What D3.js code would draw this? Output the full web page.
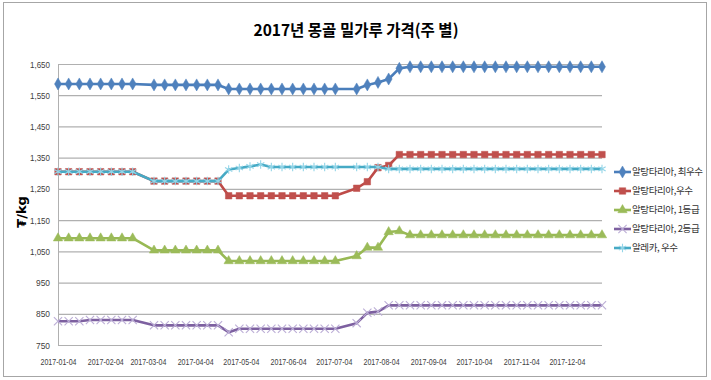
<!DOCTYPE html>
<html><head><meta charset="utf-8">
<script src="https://cdn.jsdelivr.net/npm/d3@7"></script>
<style>
html,body{margin:0;padding:0;background:#fff;}
svg{display:block;}
</style></head>
<body><svg id="c" width="711" height="380"></svg>
<script>
const title = "2017년 몽골 밀가루 가격(주 별)";
const yLabel = "₮/kg";
const dates = ["2017-01-04","2017-01-11","2017-01-18","2017-01-25","2017-02-01","2017-02-08","2017-02-15","2017-02-22",
  "2017-03-08","2017-03-15","2017-03-22","2017-03-29","2017-04-05","2017-04-12","2017-04-19",
  "2017-04-26","2017-05-03","2017-05-10","2017-05-17","2017-05-24","2017-05-31","2017-06-07","2017-06-14","2017-06-21","2017-06-28","2017-07-05",
  "2017-07-19","2017-07-26","2017-08-02","2017-08-09","2017-08-16","2017-08-23","2017-08-30","2017-09-06","2017-09-13","2017-09-20","2017-09-27",
  "2017-10-04","2017-10-11","2017-10-18","2017-10-25","2017-11-01","2017-11-08","2017-11-15","2017-11-22","2017-11-29","2017-12-06","2017-12-13","2017-12-20","2017-12-27"];
const seriesNames = ["알탕타리아, 최우수","알탕타리아,우수","알탕타리아, 1등급","알탕타리아, 2등급","알레카, 우수"];
const altTop = [1586,1586,1586,1586,1586,1586,1586,1586, 1583,1583,1583,1583,1583,1583,1583,
  1570,1570,1570,1570,1570,1570,1570,1570,1570,1570,1570,
  1570,1583,1591,1602,1636,1641,1641,1641,1641,1641,1641,
  1641,1641,1641,1641,1641,1641,1641,1641,1641,1641,1641,1641,1641];
const altGood = [1305,1305,1305,1305,1305,1305,1305,1305, 1275,1275,1275,1275,1275,1275,1275,
  1228,1228,1228,1228,1228,1228,1228,1228,1228,1228,1228,
  1252,1273,1318,1325,1360,1360,1360,1360,1360,1360,1360,
  1360,1360,1360,1360,1360,1360,1360,1360,1360,1360,1360,1360,1360];
const alt1 = [1092,1092,1092,1092,1092,1092,1092,1092, 1053,1053,1053,1053,1053,1053,1053,
  1019,1019,1019,1019,1019,1019,1019,1019,1019,1019,1019,
  1035,1062,1062,1112,1115,1102,1102,1102,1102,1102,1102,
  1102,1102,1102,1102,1102,1102,1102,1102,1102,1102,1102,1102,1102];
const alt2 = [826,826,826,830,830,830,830,830, 813,813,813,813,813,813,813,
  791,802,802,802,802,802,802,802,802,802,802,
  820,853,857,877,877,877,877,877,877,877,877,
  877,877,877,877,877,877,877,877,877,877,877,877,877];
const alekaGood = [1305,1305,1305,1305,1305,1305,1305,1305, 1275,1275,1275,1275,1275,1275,1275,
  1312,1317,1322,1328,1320,1320,1320,1320,1320,1320,1320,
  1320,1320,1320,1314,1314,1314,1314,1314,1314,1314,1314,
  1314,1314,1314,1314,1314,1314,1314,1314,1314,1314,1314,1314,1314];
const yTicks = [750,850,950,1050,1150,1250,1350,1450,1550,1650];
const xTicks = ["2017-01-04","2017-02-04","2017-03-04","2017-04-04","2017-05-04","2017-06-04","2017-07-04","2017-08-04","2017-09-04","2017-10-04","2017-11-04","2017-12-04"];

const styles = [
  {line:"#4a7ebb", fill:"#4f81bd", stroke:"#4f81bd", sym:d3.symbolDiamond, size:42, sw:0.5},
  {line:"#be4b48", fill:"#c0504d", stroke:"#c0504d", sym:d3.symbolSquare, size:42, sw:0.5},
  {line:"#98b954", fill:"#9bbb59", stroke:"#9bbb59", sym:d3.symbolTriangle, size:38, sw:0.5},
  {line:"#7d60a0", fill:"none", stroke:"#bcaed6", sym:d3.symbolTimes, size:46, sw:1.1},
  {line:"#46aac5", fill:"none", stroke:"#93d5e8", sym:d3.symbolAsterisk, size:50, sw:1.1}
];
const allValues = [altTop, altGood, alt1, alt2, alekaGood];

const parse = d3.timeParse("%Y-%m-%d");
const svg = d3.select("#c");
svg.append("rect").attr("x",3.5).attr("y",2.5).attr("width",703).attr("height",374)
  .attr("fill","#fff").attr("stroke","#a6a6a6").attr("stroke-width",1);

const x = d3.scaleTime().domain([parse(dates[0]), parse(dates[dates.length-1])]).range([58, 602]);
const y = d3.scaleLinear().domain([750,1650]).range([345, 64]);

// title
svg.append("text").attr("x",356).attr("y",36).attr("text-anchor","middle")
  .attr("font-family","'Noto Sans CJK KR','Noto Sans',sans-serif").attr("font-weight","bold")
  .attr("font-size",16).attr("fill","#000")
  .attr("textLength",205).attr("lengthAdjust","spacingAndGlyphs").text(title);

// gridlines
const gy = svg.append("g").attr("transform","translate(58,0)")
  .call(d3.axisLeft(y).tickValues(yTicks).tickSize(-(602-58)).tickFormat(""));
gy.select(".domain").remove();
gy.selectAll(".tick line").attr("stroke","#b0b0b0").attr("stroke-width",1.2);

// y tick labels
const yl = svg.append("g").attr("transform","translate(50,0)")
  .call(d3.axisLeft(y).tickValues(yTicks).tickSize(0).tickPadding(0).tickFormat(d3.format(",")));
yl.select(".domain").remove();
yl.selectAll("text").attr("font-family","'Liberation Sans',sans-serif")
  .attr("font-size",9.5).attr("fill","#404040")
  .each(function(){ const t=this.textContent; this.setAttribute("textLength", t.length>3? 20:14); this.setAttribute("lengthAdjust","spacingAndGlyphs"); });

// axis line left
svg.append("line").attr("x1",58.5).attr("x2",58.5).attr("y1",64).attr("y2",345).attr("stroke","#b0b0b0").attr("stroke-width",1);

// x axis labels
const xl = svg.append("g").attr("transform","translate(0,359)")
  .call(d3.axisBottom(x).tickValues(xTicks.map(parse)).tickSize(0).tickPadding(0).tickFormat(d3.timeFormat("%Y-%m-%d")));
xl.select(".domain").remove();
xl.selectAll("text").attr("font-family","'Liberation Sans',sans-serif")
  .attr("font-size",9).attr("fill","#404040").attr("dy","0.71em")
  .attr("textLength",36).attr("lengthAdjust","spacingAndGlyphs");

// y label
svg.append("text").attr("transform","translate(26,212) rotate(-90)").attr("text-anchor","middle")
  .attr("font-family","'DejaVu Sans',sans-serif").attr("font-weight","bold").attr("font-size",13)
  .attr("fill","#000").text(yLabel);

const line = d3.line().x(d=>x(d.date)).y(d=>y(d.v));
allValues.forEach((vals,i)=>{
  const st = styles[i];
  const data = vals.map((v,j)=>({date:parse(dates[j]), v}));
  const g = svg.append("g");
  g.append("path").datum(data).attr("d",line).attr("fill","none").attr("stroke",st.line)
    .attr("stroke-width",2.6).attr("stroke-linejoin","round");
  g.selectAll("path.m").data(data).join("path").attr("class","m")
    .attr("transform",d=>`translate(${x(d.date)},${y(d.v)})`)
    .attr("d",d3.symbol().type(st.sym).size(st.size)())
    .attr("fill",st.fill).attr("stroke",st.stroke).attr("stroke-width",st.sw);
});

// legend
const lg = svg.append("g");
seriesNames.forEach((n,i)=>{
  const st = styles[i];
  const yy = 172 + i*19;
  lg.append("line").attr("x1",614).attr("x2",631).attr("y1",yy).attr("y2",yy)
    .attr("stroke",st.line).attr("stroke-width",2.6);
  lg.append("path").attr("transform",`translate(622.5,${yy})`).attr("d",d3.symbol().type(st.sym).size(st.size)())
    .attr("fill",st.fill).attr("stroke",st.stroke).attr("stroke-width",st.sw);
  lg.append("text").attr("x",632).attr("y",yy).attr("dy","0.35em")
    .attr("font-family","'Noto Sans CJK KR',sans-serif").attr("font-size",9.5).attr("fill","#333")
    .attr("letter-spacing",-0.4)
    .text(n);
});
</script></body></html>
